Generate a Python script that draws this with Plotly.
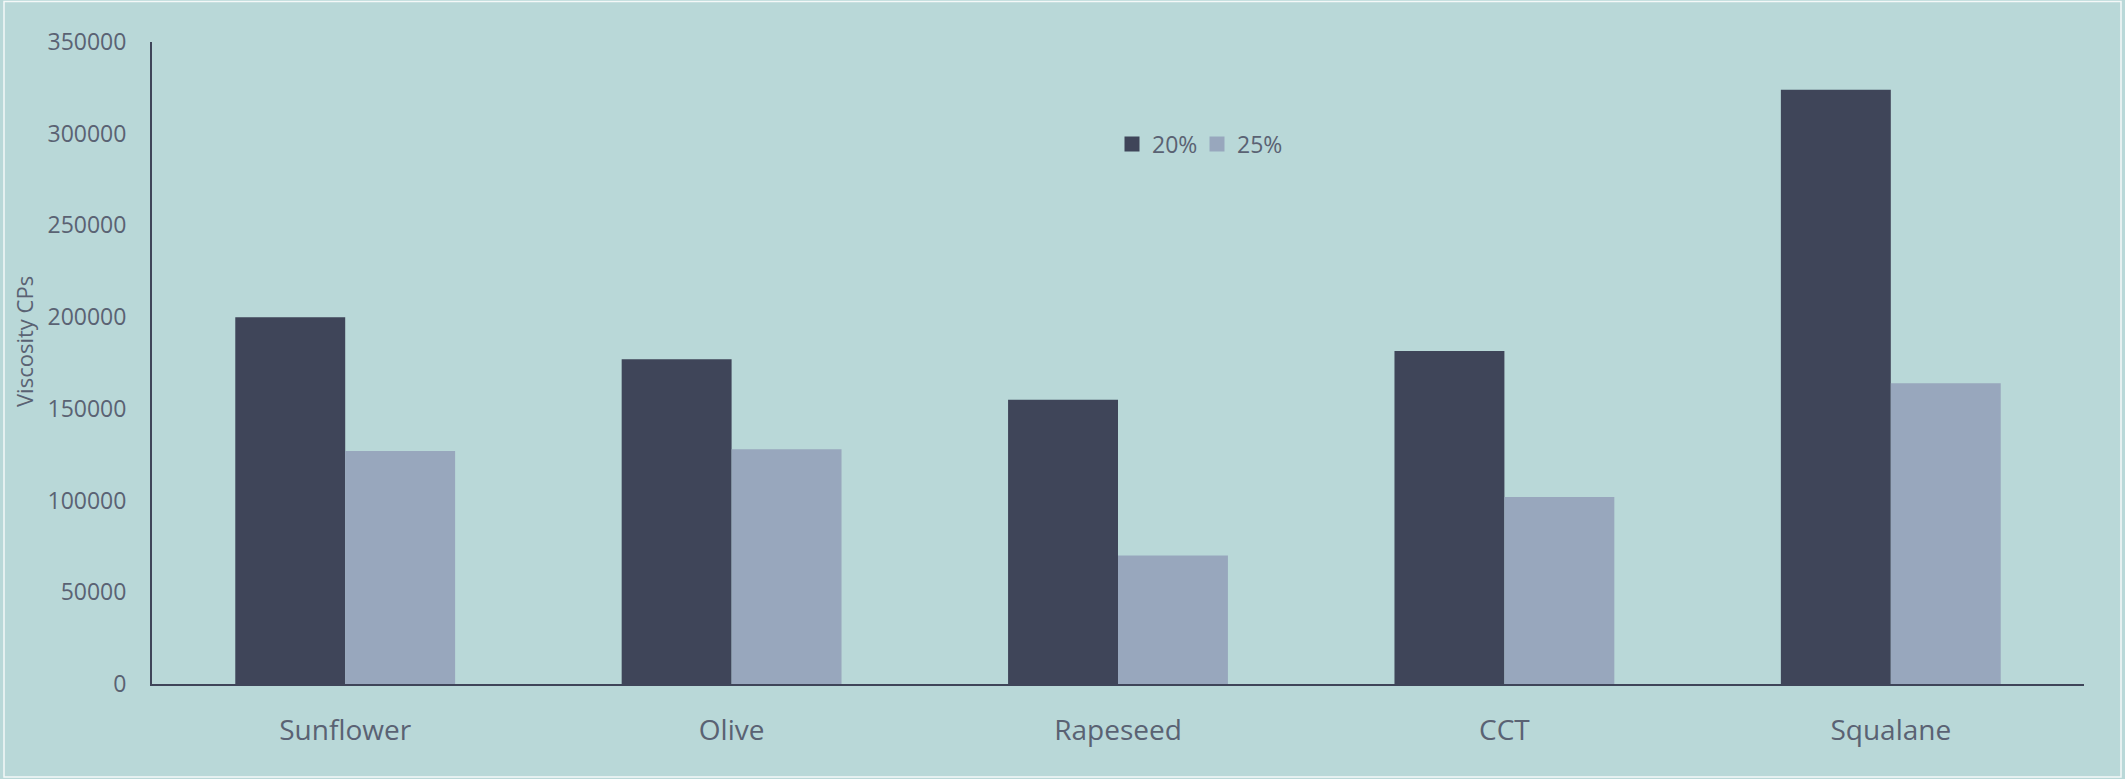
import plotly.graph_objects as go

categories = ["Sunflower", "Olive", "Rapeseed", "CCT", "Squalane"]
series_names = ["20%", "25%"]
values_20 = [200000, 177000, 155000, 181500, 324000]
values_25 = [127000, 128000, 70000, 102000, 164000]
y_tick_values = [0, 50000, 100000, 150000, 200000, 250000, 300000, 350000]
y_tick_labels = ["0", "50000", "100000", "150000", "200000", "250000", "300000", "350000"]

W, H = 2125, 779
ML, MR, MT, MB = 152, 41, 42, 95
PW = W - ML - MR
PH = H - MT - MB

def px_x(x):
    return (x - ML) / PW

def px_y(y):
    return (H - MB - y) / PH

BG = "#b9d8d8"
DARK = "#3f4559"
LIGHT = "#98a7bd"
TXT = "#5a6273"
FONT = "Open Sans"
colors = [DARK, LIGHT]

fig = go.Figure()
for name, vals, col in zip(series_names, [values_20, values_25], colors):
    fig.add_trace(go.Bar(x=categories, y=vals, name=name, legendgroup=name,
                         showlegend=False,
                         marker=dict(color=col, line=dict(width=0))))
# legend entries (square swatches)
for name, col in zip(series_names, colors):
    fig.add_trace(go.Scatter(x=[None], y=[None], mode="markers", name=name,
                             legendgroup=name, showlegend=True,
                             marker=dict(symbol="square", size=15, color=col,
                                         line=dict(width=0))))

fig.update_layout(
    width=W, height=H,
    margin=dict(l=ML, r=MR, t=MT, b=MB, pad=0),
    paper_bgcolor=BG, plot_bgcolor=BG,
    barmode="group", bargap=0.431, bargroupgap=0,
    font=dict(family=FONT, color=TXT),
    showlegend=True,
    legend=dict(orientation="h", x=px_x(1112), xanchor="left",
                y=px_y(144), yanchor="middle",
                font=dict(size=23, color=TXT, family=FONT),
                bgcolor="rgba(0,0,0,0)", itemwidth=30,
                entrywidth=40, entrywidthmode="pixels"),
    xaxis=dict(showline=True, linecolor=DARK, linewidth=2, showgrid=False,
               ticks="", tickfont=dict(size=28, color=TXT, family=FONT),
               ticklabelstandoff=20, zeroline=False),
    yaxis=dict(range=[0, 350000], showline=True, linecolor=DARK, linewidth=2,
               showgrid=False, zeroline=False, ticks="",
               tickvals=y_tick_values, ticktext=y_tick_labels,
               tickfont=dict(size=23, color=TXT, family=FONT),
               ticklabelstandoff=19),
    annotations=[dict(text="Viscosity CPs", textangle=-90, xref="paper", yref="paper",
                      x=px_x(24), y=px_y(342), xanchor="center", yanchor="middle",
                      showarrow=False, font=dict(size=22, color=TXT, family=FONT))],
    shapes=[dict(type="rect", xref="paper", yref="paper",
                 x0=px_x(4), x1=px_x(2121), y0=px_y(777), y1=px_y(1.5),
                 line=dict(color="#f4f8f8", width=1.5), fillcolor="rgba(0,0,0,0)",
                 layer="above")],
)

fig.write_html("out.html")
